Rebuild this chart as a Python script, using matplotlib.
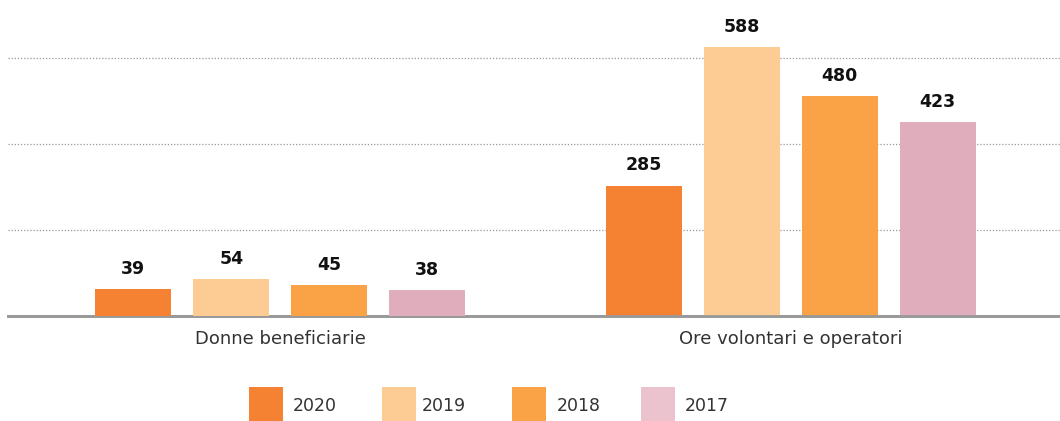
import numpy as np
import matplotlib.pyplot as plt
from matplotlib.patches import Rectangle

categories = ['Donne beneficiarie', 'Ore volontari e operatori']
years = ['2020', '2019', '2018', '2017']
donne = [39, 54, 45, 38]
ore = [285, 588, 480, 423]

bar_colors = ['#F58232', '#FDCB94', '#F9A346', '#DFADBB']
legend_colors = ['#F58232', '#FDCB94', '#F9A346', '#EBC3CE']

plt.rcParams['font.family'] = ['DejaVu Sans']

W, H = 1060, 421
fig = plt.figure(figsize=(W / 100, H / 100), dpi=100)
ax = fig.add_axes([8 / W, 105 / H, 1052 / W, 302 / H])
ax2 = ax.twinx()

spacing = 98 / 511
width = 76 / 511
offsets = (np.arange(4) - 1.5) * spacing

# right group on main axis, left group on its own scale
ymax_r = 660
ymax_l = 437
ax.set_ylim(0, ymax_r)
ax2.set_ylim(0, ymax_l)
ax.set_xlim(-0.533, 1.527)

for i in range(4):
    b = ax.bar(1 + offsets[i], ore[i], width, color=bar_colors[i], zorder=3)
    ax.bar_label(b, labels=[str(ore[i])], padding=8, fontsize=12.5,
                 fontweight='bold', color='#111111')
    b2 = ax2.bar(0 + offsets[i], donne[i], width, color=bar_colors[i], zorder=3)
    ax2.bar_label(b2, labels=[str(donne[i])], padding=8, fontsize=12.5,
                  fontweight='bold', color='#111111')

ax.set_yticks(ymax_r * np.array([86, 172, 258]) / 302)
ax.yaxis.grid(True, linestyle=(0, (1, 1.5)), color='#999999', linewidth=0.9)
ax.set_axisbelow(True)
ax.tick_params(axis='y', left=False, labelleft=False)
ax2.set_yticks([])
ax2.tick_params(axis='y', right=False, labelright=False)

ax.set_xticks([0, 1])
ax.set_xticklabels(categories, fontsize=13, color='#333333')
ax.tick_params(axis='x', length=0, pad=10)

for a in (ax, ax2):
    for s in ['top', 'right', 'left']:
        a.spines[s].set_visible(False)
    a.spines['bottom'].set_color('#999999')
    a.spines['bottom'].set_linewidth(2)
    a.patch.set_visible(False)

# legend drawn by hand
sq_x = [249, 382, 512, 641]
txt_x = [293, 422, 557, 685]
for i in range(4):
    fig.add_artist(Rectangle((sq_x[i] / W, 1 - 421 / H), 34 / W, 34 / H,
                             transform=fig.transFigure, facecolor=legend_colors[i],
                             edgecolor='none'))
    fig.text(txt_x[i] / W, 1 - 406 / H, years[i], fontsize=12.5, color='#333333',
             ha='left', va='center')

fig.savefig('out.png', dpi=100)
